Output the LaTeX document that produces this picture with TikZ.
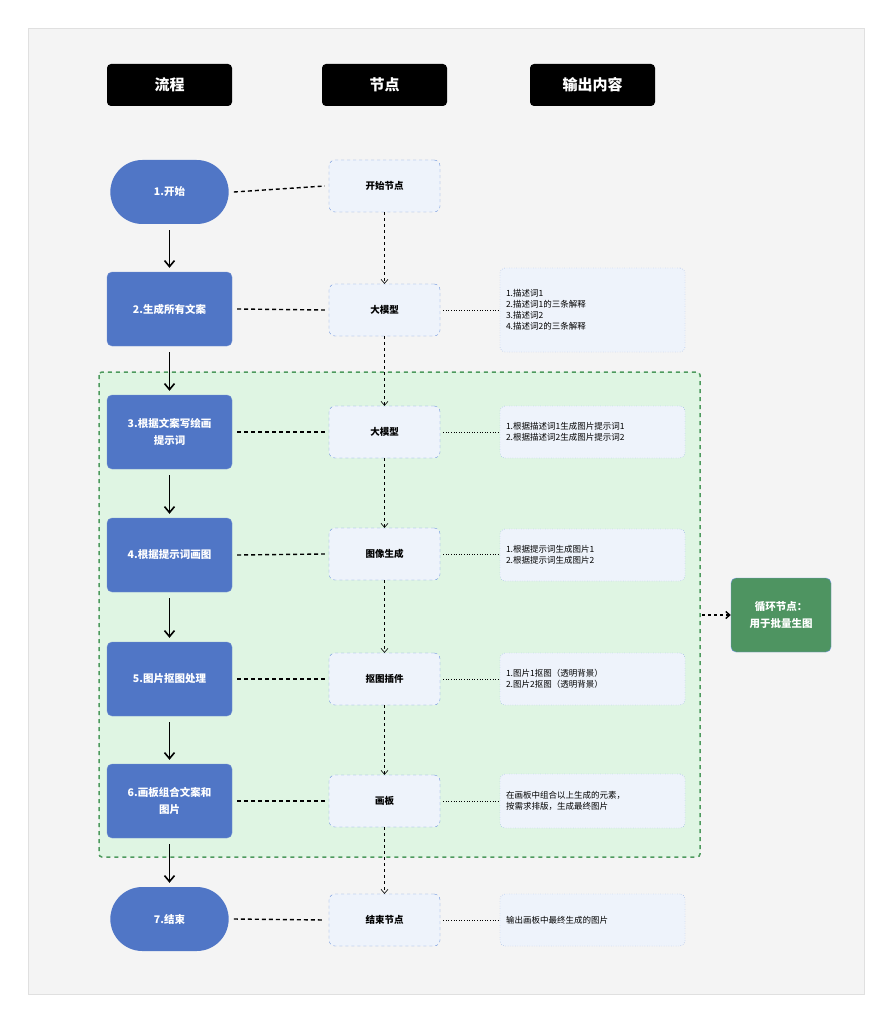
\documentclass[tikz,border=0pt]{standalone}
\usepackage{fontspec}
\setmainfont{Noto Sans CJK SC}
\usetikzlibrary{arrows.meta,shapes.misc}
\definecolor{bgc}{HTML}{F4F4F4}
\definecolor{blu}{HTML}{5076C6}
\definecolor{mid}{HTML}{EEF3FB}
\definecolor{midb}{HTML}{7096DC}
\definecolor{grn}{HTML}{DFF5E3}
\definecolor{grnb}{HTML}{4E9A5E}
\definecolor{loopc}{HTML}{4E9461}
\begin{document}
\begin{tikzpicture}[x=1pt,y=-1pt,
 myhdr/.style={fill=black,text=white,rounded corners=4pt,minimum width=125pt,minimum height=42pt,font=\bfseries\fontsize{15}{18}\selectfont},
 mystep/.style={fill=blu,draw=blu!80!white,text=white,rounded corners=5pt,minimum width=125pt,minimum height=74pt,align=center,font=\bfseries\fontsize{10.5}{17}\selectfont},
 myterm/.style={fill=blu,text=white,rounded rectangle,minimum width=125pt,minimum height=64pt,font=\bfseries\fontsize{10.5}{14}\selectfont},
 mymid/.style={fill=mid,draw=midb,dashed,rounded corners=6pt,minimum width=111pt,minimum height=52pt,font=\bfseries\fontsize{9.5}{12}\selectfont},
 myout/.style={fill=mid,draw=midb,dotted,rounded corners=5pt,minimum width=185pt,align=left,text width=173pt,font=\fontsize{8.5}{18}\selectfont},
 myflow/.style={-{Straight Barb[length=6pt,width=10pt]},line width=1.6pt},
 mydarr/.style={-{Straight Barb[length=4pt,width=7pt]},dashed,semithick},
 mylnk/.style={line width=1.4pt,dash pattern=on 4pt off 3pt},
 mydl/.style={dotted,semithick}]
\useasboundingbox (0,0) rectangle (894,1024);
\fill[bgc,draw=black!12] (28,28) rectangle (864,994);
\fill[grn,draw=grnb,line width=1.5pt,dash pattern=on 4pt off 4pt,rounded corners=3pt] (99,372) rectangle (700,857);
\node[myhdr] (h1) at (169.5,85) {流程};
\node[myhdr] (h2) at (384.5,85) {节点};
\node[myhdr] (h3) at (592.5,85) {输出内容};
\node[myterm] (s1) at (169.5,192) {1.开始};
\node[mystep] (s2) at (169.5,309) {2.生成所有文案};
\node[mystep] (s3) at (169.5,432) {3.根据文案写绘画\\提示词};
\node[mystep] (s4) at (169.5,555) {4.根据提示词画图};
\node[mystep] (s5) at (169.5,679) {5.图片抠图处理};
\node[mystep] (s6) at (169.5,801) {6.画板组合文案和\\图片};
\node[myterm] (s7) at (169.5,919) {7.结束};
\node[mymid] (m1) at (384.5,186) {开始节点};
\node[mymid] (m2) at (384.5,310) {大模型};
\node[mymid] (m3) at (384.5,432) {大模型};
\node[mymid] (m4) at (384.5,554) {图像生成};
\node[mymid] (m5) at (384.5,679) {抠图插件};
\node[mymid] (m6) at (384.5,801) {画板};
\node[mymid] (m7) at (384.5,920) {结束节点};
\node[myout,minimum height=84pt] (o2) at (592.5,310) {1.描述词1\\[-7pt]2.描述词1的三条解释\\[-7pt]3.描述词2\\[-7pt]4.描述词2的三条解释};
\node[myout,minimum height=52pt] (o3) at (592.5,432) {1.根据描述词1生成图片提示词1\\[-7pt]2.根据描述词2生成图片提示词2};
\node[myout,minimum height=52pt] (o4) at (592.5,555) {1.根据提示词生成图片1\\[-7pt]2.根据提示词生成图片2};
\node[myout,minimum height=52pt] (o5) at (592.5,679) {1.图片1抠图（透明背景）\\[-7pt]2.图片2抠图（透明背景）};
\node[myout,minimum height=54pt] (o6) at (592.5,801) {在画板中组合以上生成的元素，\\[-7pt]按需求排版，生成最终图片};
\node[myout,minimum height=52pt] (o7) at (592.5,920) {输出画板中最终生成的图片};
\node[fill=loopc,draw=midb,rounded corners=5pt,minimum width=100pt,minimum height=74pt,text=white,align=center,font=\bfseries\fontsize{10.5}{17}\selectfont] (lp) at (781,615) {循环节点：\\用于批量生图};
\coordinate (ge) at (702,615);
\draw[mydarr,line width=1.4pt] (ge) -- (lp);
\foreach \a/\b in {s1/s2,s2/s3,s3/s4,s4/s5,s5/s6,s6/s7} \draw[myflow] ([yshift=-6pt]\a.south) -- ([yshift=4pt]\b.north);
\foreach \a/\b in {m1/m2,m2/m3,m3/m4,m4/m5,m5/m6,m6/m7} \draw[mydarr] (\a) -- (\b);
\foreach \i in {1,...,7} \draw[mylnk] ([xshift=5pt]s\i.east) -- ([xshift=-4pt]m\i.west);
\foreach \i in {2,...,7} \draw[mydl] ([xshift=3pt]m\i.east) -- (m\i.east -| o\i.west);
\end{tikzpicture}
\end{document}
